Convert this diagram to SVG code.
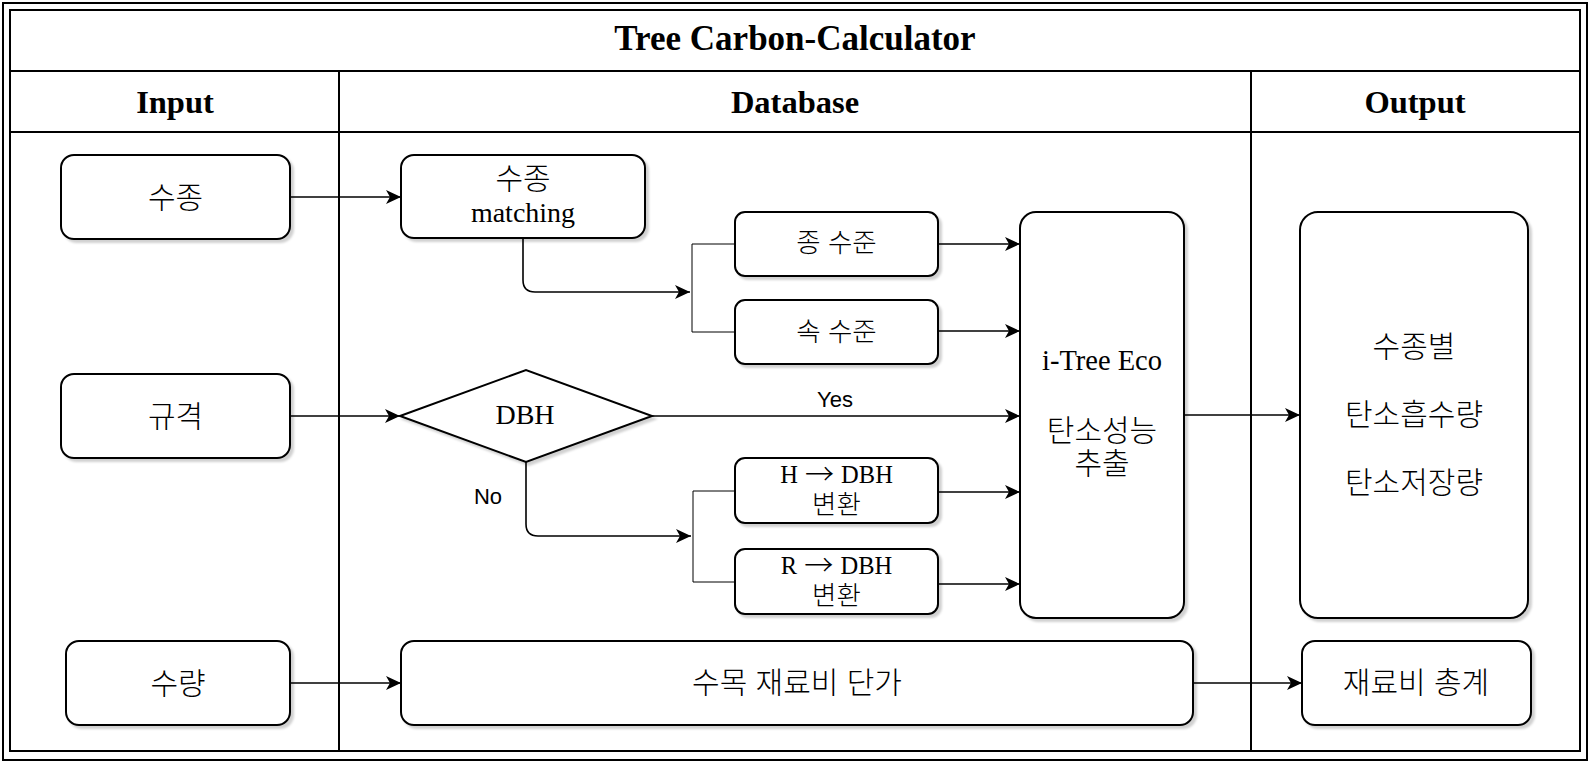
<svg xmlns="http://www.w3.org/2000/svg" width="1591" height="764" viewBox="0 0 1591 764">
<style>
.frame{fill:none;stroke:#000;stroke-width:2}
.node{fill:#fff;stroke:#000;stroke-width:2;filter:url(#sh)}
.edge{fill:none;stroke:#000;stroke-width:1.6}
.br{fill:none;stroke:#000;stroke-width:1}
.hd{font-family:"Liberation Serif","Times New Roman",serif;font-weight:bold;text-anchor:middle;fill:#000}
.kr{font-family:"Liberation Sans","Noto Sans CJK KR",sans-serif;font-size:30px;font-weight:300;text-anchor:middle;dominant-baseline:central;fill:#000}
.krs{font-family:"Liberation Sans","Noto Sans CJK KR",sans-serif;font-size:26.5px;font-weight:300;text-anchor:middle;dominant-baseline:central;fill:#000}
.se{font-family:"Liberation Serif","Times New Roman",serif;text-anchor:middle;fill:#000}
.arw{font-family:"Noto Sans CJK KR",sans-serif;font-weight:300;font-size:29px}
.lb{font-family:"Liberation Sans",Arial,sans-serif;font-size:22px;text-anchor:middle;fill:#000}
</style>
<defs>
<filter id="sh" x="-10%" y="-10%" width="130%" height="130%">
<feDropShadow dx="3" dy="3" stdDeviation="0.8" flood-color="#000" flood-opacity="0.18"/>
</filter>
<marker id="ar" markerUnits="userSpaceOnUse" markerWidth="16" markerHeight="14" viewBox="0 0 16 14" refX="15" refY="7" orient="auto">
<path d="M0,0 L15,7 L0,14 L4,7 Z" fill="#000"/>
</marker>
</defs>
<rect width="1591" height="764" fill="#fff"/>
<g id="table">
<rect x="3" y="3" width="1584" height="757" class="frame"/>
<rect x="10" y="10" width="1570" height="741" class="frame"/>
<line x1="10" y1="71" x2="1580" y2="71" class="frame"/>
<line x1="10" y1="132" x2="1580" y2="132" class="frame"/>
<line x1="339" y1="71" x2="339" y2="751" class="frame"/>
<line x1="1251" y1="71" x2="1251" y2="751" class="frame"/>
<text x="795" y="50" class="hd" font-size="35">Tree Carbon-Calculator</text>
<text x="175" y="113" class="hd" font-size="32.5">Input</text>
<text x="795" y="113" class="hd" font-size="32.5">Database</text>
<text x="1415" y="113" class="hd" font-size="32.5">Output</text>
</g>
<g id="connectors">
<line x1="290" y1="197" x2="401" y2="197" class="edge" marker-end="url(#ar)"/>
<line x1="290" y1="416" x2="400" y2="416" class="edge" marker-end="url(#ar)"/>
<line x1="290" y1="683" x2="401" y2="683" class="edge" marker-end="url(#ar)"/>
<path d="M523,238 V280 Q523,292 535,292 H690" class="edge" marker-end="url(#ar)"/>
<path d="M735,244 H692 V332 H735" class="br"/>
<path d="M526,462 V524 Q526,536 538,536 H691" class="edge" marker-end="url(#ar)"/>
<path d="M735,491 H693 V582 H735" class="br"/>
<line x1="938" y1="244" x2="1020" y2="244" class="edge" marker-end="url(#ar)"/>
<line x1="938" y1="331" x2="1020" y2="331" class="edge" marker-end="url(#ar)"/>
<line x1="652" y1="416" x2="1020" y2="416" class="edge" marker-end="url(#ar)"/>
<line x1="938" y1="492" x2="1020" y2="492" class="edge" marker-end="url(#ar)"/>
<line x1="938" y1="584" x2="1020" y2="584" class="edge" marker-end="url(#ar)"/>
<line x1="1184" y1="415" x2="1300" y2="415" class="edge" marker-end="url(#ar)"/>
<line x1="1193" y1="683" x2="1302" y2="683" class="edge" marker-end="url(#ar)"/>
<text x="835" y="407" class="lb">Yes</text>
<text x="488" y="504" class="lb">No</text>
</g>
<g id="n-species">
<rect x="61" y="155" width="229" height="84" rx="13" class="node"/>
<text x="175.5" y="197" class="kr">수종</text>
</g>
<g id="n-spec">
<rect x="61" y="374" width="229" height="84" rx="13" class="node"/>
<text x="175.5" y="416" class="kr">규격</text>
</g>
<g id="n-qty">
<rect x="66" y="641" width="224" height="84" rx="13" class="node"/>
<text x="178" y="683" class="kr">수량</text>
</g>
<g id="n-matching">
<rect x="401" y="155" width="244" height="83" rx="13" class="node"/>
<text x="523" y="178" class="kr">수종</text>
<text x="523" y="222" class="se" font-size="28">matching</text>
</g>
<g id="n-sp-level">
<rect x="735" y="212" width="203" height="64" rx="10" class="node"/>
<text x="836.5" y="243" class="krs">종 수준</text>
</g>
<g id="n-gen-level">
<rect x="735" y="300" width="203" height="64" rx="10" class="node"/>
<text x="836.5" y="332" class="krs">속 수준</text>
</g>
<g id="n-dbh">
<polygon points="400,416 526,370 652,416 526,462" class="node"/>
<text x="525" y="424" class="se" font-size="28">DBH</text>
</g>
<g id="n-h-dbh">
<rect x="735" y="458" width="203" height="65" rx="10" class="node"/>
<text x="836.5" y="483" class="se" font-size="24.5">H <tspan class="arw" dx="1" dy="2">→</tspan><tspan dx="1" dy="-2"> DBH</tspan></text>
<text x="836.5" y="505" class="krs">변환</text>
</g>
<g id="n-r-dbh">
<rect x="735" y="549" width="203" height="65" rx="10" class="node"/>
<text x="836.5" y="574" class="se" font-size="24.5">R <tspan class="arw" dx="1" dy="2">→</tspan><tspan dx="1" dy="-2"> DBH</tspan></text>
<text x="836.5" y="596" class="krs">변환</text>
</g>
<g id="n-itree">
<rect x="1020" y="212" width="164" height="406" rx="16" class="node"/>
<text x="1102" y="370" class="se" font-size="28.5">i-Tree Eco</text>
<text x="1102" y="430" class="kr">탄소성능</text>
<text x="1102" y="463" class="kr">추출</text>
</g>
<g id="n-output">
<rect x="1300" y="212" width="228" height="406" rx="18" class="node"/>
<text x="1414" y="346" class="kr">수종별</text>
<text x="1414" y="414" class="kr">탄소흡수량</text>
<text x="1414" y="482" class="kr">탄소저장량</text>
</g>
<g id="n-price">
<rect x="401" y="641" width="792" height="84" rx="13" class="node"/>
<text x="797" y="682" class="kr">수목 재료비 단가</text>
</g>
<g id="n-total">
<rect x="1302" y="641" width="229" height="84" rx="13" class="node"/>
<text x="1416" y="682" class="kr">재료비 총계</text>
</g>
</svg>
